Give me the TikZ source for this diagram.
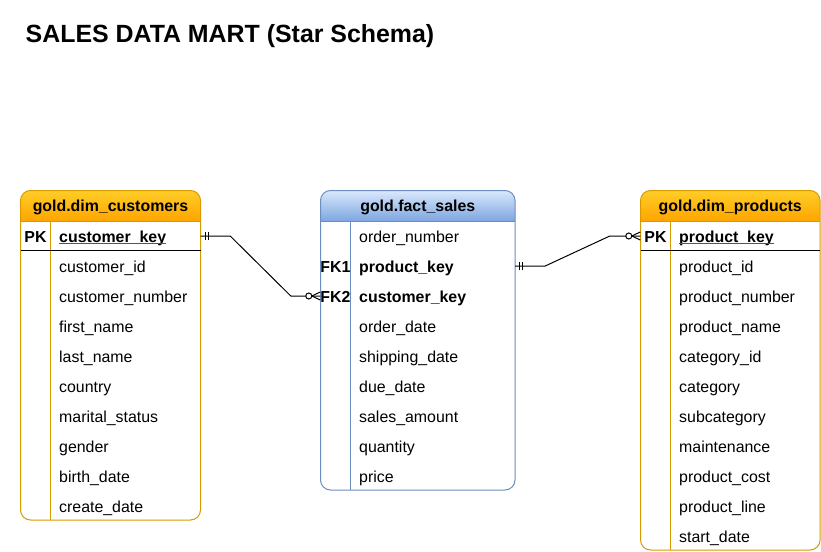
\documentclass[tikz,border=0pt]{standalone}
\usepackage{fontspec}
\setmainfont{Liberation Sans}
\usetikzlibrary{calc}
\definecolor{orTop}{HTML}{FFCD28}
\definecolor{orBot}{HTML}{FFA500}
\definecolor{orLine}{HTML}{D79B00}
\definecolor{blTop}{HTML}{DAE8FC}
\definecolor{blBot}{HTML}{7EA6E0}
\definecolor{blLine}{HTML}{6C8EBF}
\definecolor{ulGray}{HTML}{555555}
\begin{document}
\begin{tikzpicture}[x=1pt,y=-1pt,
  rowtxt/.style={anchor=base west,inner sep=0pt,font=\fontsize{15.9}{19}\selectfont},
  boldtxt/.style={rowtxt,font=\fontsize{15.9}{19}\selectfont\bfseries},
  keytxt/.style={anchor=base,inner sep=0pt,font=\fontsize{15.9}{19}\selectfont\bfseries},
  hdrtxt/.style={anchor=base,inner sep=0pt,font=\fontsize{15.9}{19}\selectfont\bfseries},
  cell/.style={inner sep=0pt,minimum height=30pt,minimum width=#1},
  conn/.style={line width=1pt,black},
  ulline/.style={line width=1.1pt,ulGray}
]
\useasboundingbox (0,0) rectangle (821,551);

% title
\node[anchor=base west,inner sep=0pt,font=\fontsize{24.9}{28}\selectfont\bfseries] (title) at (25.5,43) {SALES DATA MART (Star Schema)};

% ---------- table frames ----------
% customers
\fill[white,rounded corners=10pt] (20.5,190.5) rectangle (200.5,520);
\begin{scope}
  \clip[rounded corners=10pt] (20.5,190.5) rectangle (200.5,520);
  \shade[top color=orTop,bottom color=orBot] (20.5,190.5) rectangle (200.5,221);
\end{scope}
\draw[orLine,line width=1pt,rounded corners=10pt] (20.5,190.5) rectangle (200.5,520);
\draw[orLine,line width=1pt] (20.5,221) -- (200.5,221);
\draw[orLine,line width=1pt] (50.5,221) -- (50.5,520);
\draw[black,line width=1pt] (20.5,250.5) -- (200.5,250.5);

% fact
\fill[white,rounded corners=10pt] (320.5,190.5) rectangle (515,490);
\begin{scope}
  \clip[rounded corners=10pt] (320.5,190.5) rectangle (515,490);
  \shade[top color=blTop,bottom color=blBot] (320.5,190.5) rectangle (515,221);
\end{scope}
\draw[blLine,line width=1pt,rounded corners=10pt] (320.5,190.5) rectangle (515,490);
\draw[blLine,line width=1pt] (320.5,221) -- (515,221);
\draw[blLine,line width=1pt] (350.5,221) -- (350.5,490);

% products
\fill[white,rounded corners=10pt] (640.5,190.5) rectangle (820,550);
\begin{scope}
  \clip[rounded corners=10pt] (640.5,190.5) rectangle (820,550);
  \shade[top color=orTop,bottom color=orBot] (640.5,190.5) rectangle (820,221);
\end{scope}
\draw[orLine,line width=1pt,rounded corners=10pt] (640.5,190.5) rectangle (820,550);
\draw[orLine,line width=1pt] (640.5,221) -- (820,221);
\draw[orLine,line width=1pt] (670.5,221) -- (670.5,550);
\draw[black,line width=1pt] (640.5,250.5) -- (820,250.5);

% ---------- headers ----------
\node[hdrtxt] (hc) at (110.5,211.5) {gold.dim\_customers};
\node[hdrtxt] (hf) at (417.75,211.5) {gold.fact\_sales};
\node[hdrtxt] (hp) at (730.25,211.5) {gold.dim\_products};

% ---------- row cells (invisible, for connectors) ----------
\node[cell=180pt] (c-pk) at (110.5,236) {};
\node[cell=194.5pt] (f-pk) at (417.75,266) {};
\node[cell=194.5pt] (f-ck) at (417.75,296) {};
\node[cell=179.5pt] (p-pk) at (730.25,236) {};

% ---------- customers rows ----------
\node[keytxt] (c-pklab) at (35.5,242) {PK};
\node[boldtxt] (c-key) at (59,242) {customer\_key};
\draw[ulline] ($(c-key.base west)+(0,1.5)$) -- ($(c-key.base east)+(0,1.5)$);
\foreach \t [count=\i] in {customer\_id,customer\_number,first\_name,last\_name,country,marital\_status,gender,birth\_date,create\_date}
  \node[rowtxt] (c-r\i) at (59,{242+30*\i}) {\t};

% ---------- fact rows ----------
\node[rowtxt] (f-r0) at (359,242) {order\_number};
\node[keytxt] (f-fk1) at (335.5,272) {FK1};
\node[boldtxt] (f-r1) at (359,272) {product\_key};
\node[keytxt] (f-fk2) at (335.5,302) {FK2};
\node[boldtxt] (f-r2) at (359,302) {customer\_key};
\foreach \t [count=\i] in {order\_date,shipping\_date,due\_date,sales\_amount,quantity,price}
  \node[rowtxt] (f-s\i) at (359,{302+30*\i}) {\t};

% ---------- products rows ----------
\node[keytxt] (p-pklab) at (655.5,242) {PK};
\node[boldtxt] (p-key) at (679,242) {product\_key};
\draw[ulline] ($(p-key.base west)+(0,1.5)$) -- ($(p-key.base east)+(0,1.5)$);
\foreach \t [count=\i] in {product\_id,product\_number,product\_name,category\_id,category,subcategory,maintenance,product\_cost,product\_line,start\_date}
  \node[rowtxt] (p-r\i) at (679,{242+30*\i}) {\t};

% ---------- connector: customers -> fact ----------
\draw[conn] (c-pk.east) -- ($(c-pk.east)+(29.5,0)$) -- ($(f-ck.west)+(-29.5,0)$) -- (f-ck.west);
\draw[conn] ($(c-pk.east)+(5,-4)$) -- ($(c-pk.east)+(5,4)$);
\draw[conn] ($(c-pk.east)+(8,-4)$) -- ($(c-pk.east)+(8,4)$);
\draw[conn] ($(f-ck.west)+(-8.5,0)$) -- ($(f-ck.west)+(0,-4)$);
\draw[conn] ($(f-ck.west)+(-8.5,0)$) -- ($(f-ck.west)+(0,4)$);
\draw[conn,fill=white] ($(f-ck.west)+(-11.5,0)$) circle (3pt);

% ---------- connector: fact -> products ----------
\draw[conn] (f-pk.east) -- ($(f-pk.east)+(30,0)$) -- ($(p-pk.west)+(-30.5,0)$) -- (p-pk.west);
\draw[conn] ($(f-pk.east)+(4,-4)$) -- ($(f-pk.east)+(4,4)$);
\draw[conn] ($(f-pk.east)+(7,-4)$) -- ($(f-pk.east)+(7,4)$);
\draw[conn] ($(p-pk.west)+(-8.5,0)$) -- ($(p-pk.west)+(0,-4)$);
\draw[conn] ($(p-pk.west)+(-8.5,0)$) -- ($(p-pk.west)+(0,4)$);
\draw[conn,fill=white] ($(p-pk.west)+(-11.5,0)$) circle (3pt);
\end{tikzpicture}
\end{document}
